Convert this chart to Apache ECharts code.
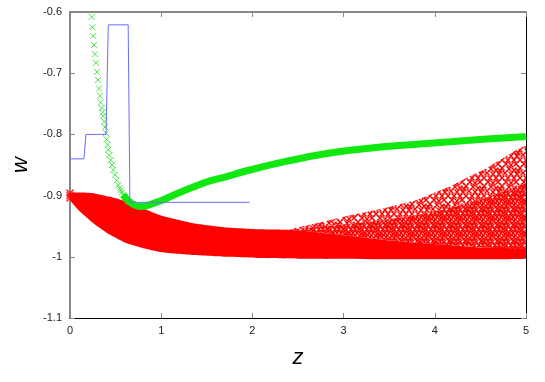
<!DOCTYPE html>
<html><head><meta charset="utf-8">
<script src="https://cdn.jsdelivr.net/npm/echarts@6/dist/echarts.min.js"></script>
<style>html,body{margin:0;padding:0;background:#fff}#c{width:545px;height:382px}</style>
</head><body><div id="c"></div>
<script>
// ---- data ----
const xTickValues = [0, 1, 2, 3, 4, 5];
const xTickLabels = ['0', '1', '2', '3', '4', '5'];
const yTickValues = [-1.1, -1.0, -0.9, -0.8, -0.7, -0.6];
const yTickLabels = ['-1.1', '-1', '-0.9', '-0.8', '-0.7', '-0.6'];

// blue step curve
const blueStep = [[0,-0.84],[0.153,-0.84],[0.175,-0.80],[0.395,-0.80],[0.420,-0.621],[0.638,-0.621],[0.657,-0.911],[1.97,-0.911]];

// green: sparse markers (steep part) and dense part (drawn as thick marker band)
const greenSparse = [[0.238,-0.608],[0.245,-0.625],[0.255,-0.639],[0.263,-0.654],[0.274,-0.669],[0.285,-0.683],[0.296,-0.698],[0.307,-0.711],[0.318,-0.725],[0.329,-0.737],[0.337,-0.748],[0.348,-0.757],[0.358,-0.764],[0.365,-0.770],[0.376,-0.779],[0.384,-0.788],[0.395,-0.798],[0.402,-0.808],[0.413,-0.817],[0.420,-0.825],[0.431,-0.834],[0.446,-0.842],[0.461,-0.850],[0.475,-0.858],[0.493,-0.866],[0.512,-0.875],[0.530,-0.883],[0.545,-0.888],[0.556,-0.891],[0.570,-0.895],[0.584,-0.899],[0.600,-0.902],[0.622,-0.906],[0.640,-0.909],[0.658,-0.911]];
const greenDense = [[0.584,-0.899],[0.622,-0.906],[0.658,-0.911],[0.72,-0.916],[0.78,-0.918],[0.87,-0.915],[0.987,-0.909],[1.17,-0.897],[1.352,-0.886],[1.535,-0.876],[1.718,-0.869],[1.95,-0.859],[2.34,-0.845],[2.705,-0.834],[3.07,-0.826],[3.435,-0.820],[3.80,-0.816],[4.167,-0.812],[4.532,-0.808],[4.97,-0.804],[5.0,-0.803]];

// red band: outer envelope, top of the solid part, mid-density line, bottom
const redEnvelope = [[0,-0.896],[0.11,-0.895],[0.255,-0.896],[0.439,-0.902],[0.622,-0.910],[0.804,-0.921],[0.987,-0.932],[1.352,-0.945],[1.718,-0.952],[2.083,-0.955],[2.412,-0.955],[2.705,-0.945],[3.07,-0.932],[3.435,-0.921],[3.801,-0.907],[3.98,-0.896],[4.167,-0.885],[4.35,-0.871],[4.532,-0.858],[4.715,-0.842],[4.898,-0.825],[5.0,-0.818]];
const redSolidTop = [[0,-0.896],[0.11,-0.895],[0.255,-0.896],[0.439,-0.902],[0.622,-0.910],[0.804,-0.921],[0.987,-0.932],[1.352,-0.945],[1.718,-0.952],[2.083,-0.955],[2.412,-0.956],[2.70,-0.960],[3.07,-0.966],[3.43,-0.972],[3.80,-0.977],[4.17,-0.981],[4.53,-0.985],[5.0,-0.988]];
const redMidTop = [[2.412,-0.956],[2.70,-0.951],[3.07,-0.946],[3.43,-0.940],[3.80,-0.932],[4.17,-0.920],[4.53,-0.905],[5.0,-0.880]];
const redBottom = [[0,-0.907],[0.11,-0.926],[0.255,-0.945],[0.439,-0.964],[0.622,-0.978],[0.804,-0.986],[0.987,-0.992],[1.352,-0.997],[1.718,-1.000],[2.083,-1.002],[2.5,-1.003],[5.0,-1.003]];
const redEdgeMarks = [[0,-0.896],[0,-0.900],[0,-0.904]];

// ---- styling helpers ----
function makePattern(n, crosses, lw, r) {
  const c = document.createElement('canvas');
  c.width = n; c.height = n;
  const g = c.getContext('2d');
  g.strokeStyle = '#ff0000'; g.lineWidth = lw;
  crosses.forEach(([x, y]) => {
    for (let dx = -n; dx <= n; dx += n) for (let dy = -n; dy <= n; dy += n) {
      g.beginPath();
      g.moveTo(x - r + dx, y - r + dy); g.lineTo(x + r + dx, y + r + dy);
      g.moveTo(x + r + dx, y - r + dy); g.lineTo(x - r + dx, y + r + dy);
      g.stroke();
    }
  });
  return { image: c, repeat: 'repeat' };
}
const patMid = makePattern(16, [[1,1],[4,2],[8,1],[12,2],[15,5],[3,5],[7,5],[10,6],[13,9],[1,9],[5,9],[9,10],[14,13],[2,13],[6,14],[10,14],[12,11]], 1.5, 2.5);
const patLight = makePattern(18, [[2,2],[7,3],[12,2],[16,6],[5,7],[10,8],[1,11],[7,12],[13,12],[16,16],[4,16],[10,16],[14,9]], 1.4, 2.5);

const xSym = 'path://M0,0L10,10M10,0L0,10';
const above = (arr, z0) => arr.filter(p => p[0] >= z0);

function polySeries(pts, fill, smooth) {
  return {
    type: 'custom', silent: true, clip: true,
    data: [[pts[0][0], pts[0][1]]],
    renderItem: (params, api) => ({
      type: 'polygon',
      shape: { points: pts.map(q => api.coord(q)), smooth: smooth || 0 },
      style: { fill: fill, stroke: null }
    })
  };
}

const solidPoly = redSolidTop.concat(redBottom.slice().reverse());
const midPoly = redMidTop.concat(above(redSolidTop, 2.412).reverse());
const lightPoly = above(redEnvelope, 2.412).concat(redMidTop.slice().reverse());

const labelFrom = (vals, labs) => v => { let i = vals.findIndex(t => Math.abs(t - v) < 1e-6); return i >= 0 ? labs[i] : ''; };

const tickStyle = { inside: true, length: 5, lineStyle: { color: '#888', width: 1 } };
const nameStyle = { fontFamily: 'Liberation Sans', fontStyle: 'italic', fontSize: 22, color: '#000' };
const labStyle = { fontFamily: 'Liberation Sans', fontSize: 11, color: '#222' };

const chart = echarts.init(document.getElementById('c'), null, { renderer: 'canvas' });
chart.setOption({
  backgroundColor: '#fff',
  animation: false,
  grid: { left: 70, right: 19, top: 12, bottom: 64 },
  xAxis: [
    { type: 'value', min: 0, max: 5, interval: 1, position: 'bottom',
      name: 'z', nameLocation: 'middle', nameGap: 29, nameTextStyle: nameStyle,
      axisLine: { show: true, onZero: false, lineStyle: { color: '#000', width: 1 } },
      axisTick: tickStyle, splitLine: { show: false },
      axisLabel: Object.assign({ margin: 7, formatter: labelFrom(xTickValues, xTickLabels) }, labStyle) },
    { type: 'value', min: 0, max: 5, interval: 1, position: 'top',
      axisLine: { show: true, onZero: false, lineStyle: { color: '#888', width: 2 } },
      axisTick: tickStyle, splitLine: { show: false }, axisLabel: { show: false } }
  ],
  yAxis: [
    { type: 'value', min: -1.1, max: -0.6, interval: 0.1, position: 'left',
      name: 'w', nameLocation: 'middle', nameGap: 38, nameTextStyle: nameStyle,
      axisLine: { show: true, onZero: false, lineStyle: { color: '#888', width: 2 } },
      axisTick: tickStyle, splitLine: { show: false },
      axisLabel: Object.assign({ margin: 8, formatter: labelFrom(yTickValues, yTickLabels) }, labStyle) },
    { type: 'value', min: -1.1, max: -0.6, interval: 0.1, position: 'right',
      axisLine: { show: true, onZero: false, lineStyle: { color: '#000', width: 1 } },
      axisTick: tickStyle, splitLine: { show: false }, axisLabel: { show: false } }
  ],
  series: [
    polySeries(solidPoly, '#ff0000', 0.15),
    polySeries(midPoly, patMid),
    polySeries(lightPoly, patLight),
    { type: 'scatter', data: redEdgeMarks, symbol: xSym, symbolSize: 7, silent: true,
      itemStyle: { color: 'rgba(0,0,0,0)', borderColor: '#ff0000', borderWidth: 1.5 } },
    { type: 'line', data: greenDense, smooth: 0.3, showSymbol: false, silent: true,
      lineStyle: { color: '#10e810', width: 7 } },
    { type: 'scatter', data: greenSparse, symbol: xSym, symbolSize: 6, silent: true,
      itemStyle: { color: 'rgba(0,0,0,0)', borderColor: '#22dd22', borderWidth: 1 } },
    { type: 'line', data: blueStep, showSymbol: false, silent: true,
      lineStyle: { color: '#6b6bff', width: 1 } }
  ]
});
</script></body></html>
